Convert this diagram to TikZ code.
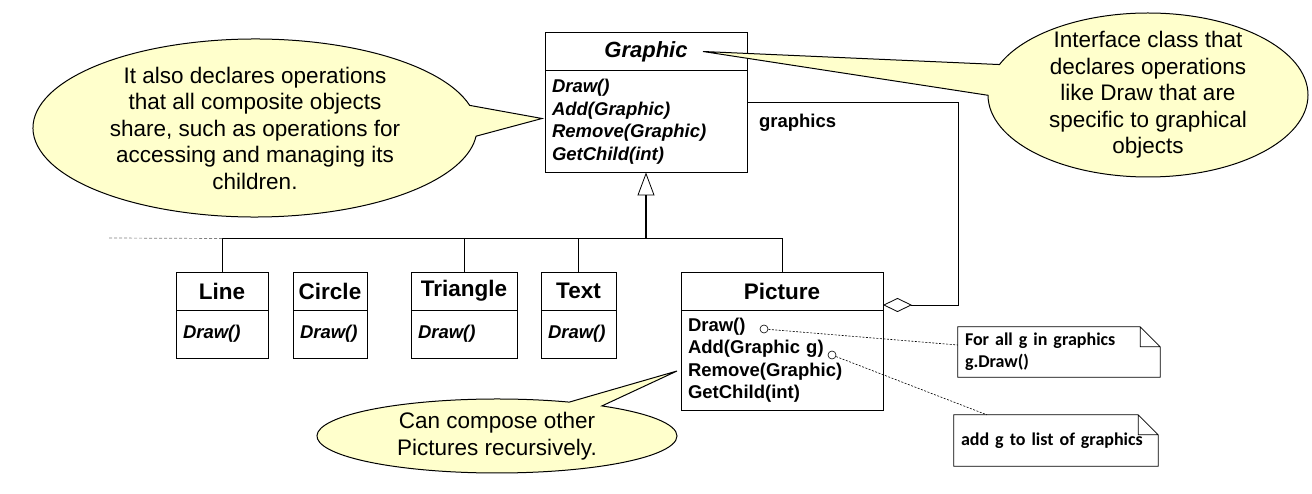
\documentclass[tikz,border=0pt]{standalone}
\usepackage{fontspec}
\setmainfont{Liberation Sans}
\newfontfamily\notefont[WordSpace=0.6]{Carlito}
\usepackage{tikz}
\usetikzlibrary{arrows.meta,positioning,shapes.callouts}
\definecolor{calloutyellow}{RGB}{255,255,204}
\newcommand*\notefold[1]{\draw[line width=0.7pt] (#1.north west) -- ([xshift=-20pt]#1.north east)
	-- ([yshift=-20pt]#1.north east) -- (#1.south east) -- (#1.south west) -- cycle
	([xshift=-20pt]#1.north east) |- ([yshift=-20pt]#1.north east);}

\begin{document}
\begin{tikzpicture}[x=1pt,y=1pt,
		classname/.style={shape=rectangle,draw,line width=0.8pt,outer sep=0pt,inner sep=0pt,minimum height=38pt,font=\fontsize{22.5}{26}\selectfont\bfseries},
		classops/.style={shape=rectangle,draw,line width=0.8pt,outer sep=0pt,inner xsep=7pt,inner ysep=0pt,align=left,font=\fontsize{18.5}{22.5}\selectfont\bfseries},
		abstractops/.style={classops,font=\fontsize{18.5}{22.5}\selectfont\bfseries\itshape},
		bubble/.style={ellipse callout,draw,line width=1pt,fill=calloutyellow,align=center,inner xsep=0pt,inner ysep=-10pt,font=\fontsize{22.5}{26.5}\selectfont},
		note/.style={shape=rectangle,inner xsep=7pt,inner ysep=0pt,align=left,font=\notefont\fontsize{18}{22}\selectfont\bfseries},
		dot/.style={shape=circle,draw,line width=0.6pt,inner sep=0pt,minimum size=8pt},
		link/.style={line width=0.8pt},
		notelink/.style={dash pattern=on 2pt off 1.5pt,line width=0.6pt}]
	\useasboundingbox (0,0) rectangle (1312,-494);

	\node (graphic) [classname,minimum width=202pt,font=\fontsize{22}{26}\selectfont\bfseries\itshape] at (646,-51.5) {Graphic};
	\node (graphicops) [abstractops,text width=188pt,minimum height=102pt,below=0pt of graphic] {Draw()\\Add(Graphic)\\Remove(Graphic)\\GetChild(int)};

	\node (line) [classname,minimum width=92pt] at (222,-291) {Line};
	\node (lineops) [abstractops,text width=78pt,minimum height=48pt,below=0pt of line] {Draw()};
	\node (circ) [classname,minimum width=74pt,right=25pt of line] {Circle};
	\node (circops) [abstractops,text width=60pt,minimum height=48pt,below=0pt of circ] {Draw()};
	\node (tri) [classname,minimum width=106pt,right=44pt of circ] {Triangle};
	\node (triops) [abstractops,text width=92pt,minimum height=48pt,below=0pt of tri] {Draw()};
	\node (txt) [classname,minimum width=75pt,right=24pt of tri] {Text};
	\node (txtops) [abstractops,text width=61pt,minimum height=48pt,below=0pt of txt] {Draw()};
	\node (picture) [classname,minimum width=202pt,right=65pt of txt] {Picture};
	\node (pictureops) [classops,text width=188pt,minimum height=100pt,below=0pt of picture] {Draw()\\Add(Graphic g)\\Remove(Graphic)\\GetChild(int)};

	\node (drawdot) [dot] at ([shift={(83pt,-19pt)}]pictureops.north west) {};
	\node (adddot) [dot] at ([shift={(151pt,-45pt)}]pictureops.north west) {};
	\node (drawnote) [note,text width=188pt,minimum height=50pt] at (1059,-352) {For all g in graphics\\g.Draw()};
	\node (addnote) [note,text width=190pt,minimum height=51pt] at (1056,-440.5) {add g to list of graphics};
	\notefold{drawnote}
	\notefold{addnote}
	\draw[notelink] (drawdot) -- ([yshift=7pt]drawnote.west);
	\draw[notelink] (adddot) -- ([xshift=33pt]addnote.north west);

	\coordinate (fork) at ([yshift=-66pt]graphicops.south);
	\coordinate (others) at (108,-238);
	\draw[link] (line.north) |- (fork);
	\draw[link] (tri.north) |- (fork);
	\draw[link] (txt.north) |- (fork);
	\draw[link] (picture.north) |- (fork);
	\draw[link,line width=1.3pt] (tri.north |- fork) -- (fork);
	\draw[link,line width=1.3pt,-{Triangle[open,length=23pt,width=17pt,line width=0.8pt]}] (fork) -- (graphicops.south);
	\draw[line width=0.7pt,gray,dash pattern=on 3pt off 2pt] (line.north |- fork) -- (others);

	\draw[link,{Diamond[open,length=29pt,width=14pt,line width=0.8pt]}-] ([yshift=5pt]picture.south east) -- ++(75pt,0)
		|- ([yshift=19pt]graphicops.east) node[pos=0.88,below=8pt,font=\fontsize{18.5}{22}\selectfont\bfseries] (role) {graphics};

	\node (sharedops) [bubble,minimum width=444pt,minimum height=178pt,callout pointer arc=20,
		callout absolute pointer={([xshift=-3pt,yshift=3pt]graphicops.west)}] at (255,-128)
		{It also declares operations\\that all composite objects\\share, such as operations for\\accessing and managing its\\children.};
	\node (interface) [bubble,minimum width=320pt,minimum height=164pt,callout pointer arc=22,
		callout absolute pointer={([xshift=57pt]graphic.center)}] at (1148,-95)
		{Interface class that\\declares operations\\like Draw that are\\specific to graphical\\objects};
	\node (recursion) [bubble,minimum width=360pt,minimum height=74pt,callout pointer arc=12,
		callout absolute pointer={([xshift=-4pt,yshift=-11pt]pictureops.west)}] at (497,-436)
		{Can compose other\\Pictures recursively.};
\end{tikzpicture}
\end{document}
